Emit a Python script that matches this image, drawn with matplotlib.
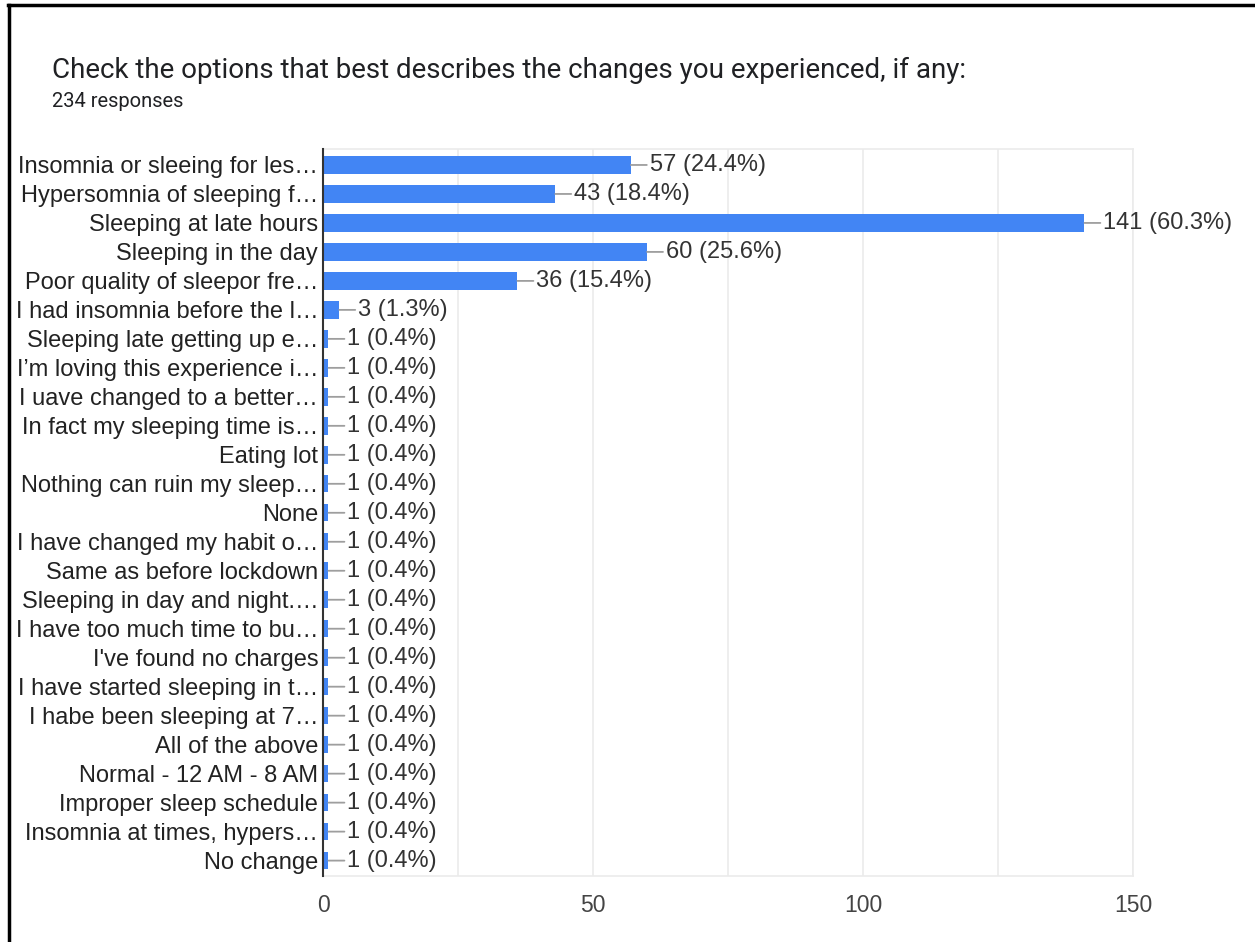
import matplotlib.pyplot as plt
from matplotlib.lines import Line2D

plt.rcParams['font.family'] = ['Liberation Sans', 'DejaVu Sans']

title = 'Check the options that best describes the changes you experienced, if any:'
n_responses = 234

labels = [
    'Insomnia or sleeing for les\u2026',
    'Hypersomnia of sleeping f\u2026',
    'Sleeping at late hours',
    'Sleeping in the day',
    'Poor quality of sleepor fre\u2026',
    'I had insomnia before the l\u2026',
    'Sleeping late getting up e\u2026',
    'I\u2019m loving this experience i\u2026',
    'I uave changed to a better\u2026',
    'In fact my sleeping time is\u2026',
    'Eating lot',
    'Nothing can ruin my sleep\u2026',
    'None',
    'I have changed my habit o\u2026',
    'Same as before lockdown',
    'Sleeping in day and night.\u2026',
    'I have too much time to bu\u2026',
    "I've found no charges",
    'I have started sleeping in t\u2026',
    'I habe been sleeping at 7\u2026',
    'All of the above',
    'Normal - 12 AM - 8 AM',
    'Improper sleep schedule',
    'Insomnia at times, hypers\u2026',
    'No change',
]
counts = [57, 43, 141, 60, 36, 3] + [1] * 19

fig = plt.figure(figsize=(12.55, 9.42), dpi=100)
ax = fig.add_axes([0.2574, 0.0701, 0.6454, 0.7717])

ypos = list(range(len(labels)))
ax.barh(ypos, counts, height=0.6, color='#4285f4', zorder=3)

# value labels with a short leader line
for y, c in zip(ypos, counts):
    txt = '%d (%.1f%%)' % (c, 100.0 * c / n_responses)
    ax.annotate(txt, xy=(c, y), xytext=(13.5, 0), textcoords='offset points',
                ha='left', va='center', fontsize=17, color='#333333',
                arrowprops=dict(arrowstyle='-', color='#9e9e9e', lw=1.3,
                                shrinkA=0, shrinkB=0, relpos=(0, 0.5)),
                zorder=4)

ax.set_xlim(0, 150)
ax.set_ylim(24.53, -0.55)
ax.set_xticks([0, 50, 100, 150])
ax.set_xticks([25, 75, 125], minor=True)
ax.set_yticks(ypos)
ax.set_yticklabels(labels, fontsize=17, color='#222222')
ax.tick_params(axis='x', which='both', length=0, pad=13, labelsize=16.5,
               labelcolor='#444444')
ax.tick_params(axis='y', length=0, pad=3.5)
ax.grid(axis='x', which='both', color='#ebebeb', lw=1.2, zorder=0)

for s in ['top', 'right', 'bottom']:
    ax.spines[s].set_color('#ebebeb')
    ax.spines[s].set_linewidth(1.2)
ax.spines['left'].set_color('#333333')
ax.spines['left'].set_linewidth(1.5)
ax.spines['left'].set_zorder(5)

fig.text(0.0414, 0.9255, title, fontsize=20, color='#202124',
         family=['Roboto', 'DejaVu Sans'], va='center')
fig.text(0.0414, 0.8925, '%d responses' % n_responses, fontsize=14.5,
         color='#202124', family=['Roboto', 'DejaVu Sans'], va='center')

# black frame lines (top and left edges)
fig.add_artist(Line2D([0.006, 1.0], [0.9947, 0.9947], color='black', lw=2.5,
                      transform=fig.transFigure))
fig.add_artist(Line2D([0.0068, 0.0068], [0.0, 0.9947], color='black', lw=2.5,
                      transform=fig.transFigure))

fig.savefig('out.png', dpi=100)
